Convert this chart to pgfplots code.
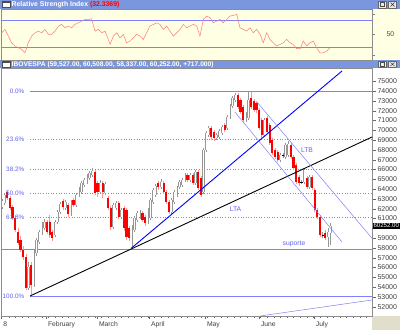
\documentclass[border=0pt]{standalone}
\usepackage{pgfplots}
\pgfplotsset{compat=1.18}
\usepackage{pgfplotstable}
\usepackage{fontspec}
\setmainfont{Liberation Sans}
\definecolor{hdr}{RGB}{122,150,222}
\definecolor{rsibg}{RGB}{255,255,228}
\definecolor{fib}{RGB}{128,128,250}
\definecolor{fibtxt}{RGB}{100,100,235}
\definecolor{rsiline}{RGB}{255,120,120}
\definecolor{cred}{RGB}{255,0,0}
\definecolor{wickred}{RGB}{255,150,150}
\definecolor{upgray}{RGB}{150,150,150}
\definecolor{corner}{RGB}{226,222,204}

\pgfplotstableread{
d O H L C
0 62175 62990 61970 62787
1 62583 63602 62379 63398
10 53918 56570 53720 56058
12 54224 57790 54020 57486
13 57486 59015 57180 58811
14 58607 59830 58400 59627
15 59525 60646 59321 60340
16 60034 60950 59830 60646
20 59321 60850 59117 60646
21 60646 61869 60442 61665
22 61665 62685 61461 62481
24 62073 62889 61869 62685
26 61461 62889 61258 62685
28 62379 63602 62175 63398
29 63398 64214 63194 63908
30 63704 64826 63500 64622
31 64418 65131 64214 64927
32 64724 65539 64520 65335
33 65131 65845 64927 65641
34 65437 66151 65233 65845
37 63704 64927 63500 64622
39 63602 64724 63398 64520
42 60136 62583 59930 62379
43 62073 62787 61869 62583
45 61156 62073 60950 61869
49 59015 60340 57996 60136
50 59830 61258 59627 61054
51 60850 61767 60646 61563
52 61156 61869 60950 61665
55 60646 62073 60442 61869
56 61054 63092 60850 62889
57 62685 64112 62481 63908
58 63398 64520 63194 64316
60 64214 65029 64010 64724
64 61665 63092 61461 62889
65 62685 63908 62481 63704
66 63398 64316 63194 64112
67 64214 64927 64010 64724
68 64418 65131 64214 64927
69 64927 65641 64724 65437
71 64927 65641 64724 65437
73 64622 65947 64418 65743
76 63704 68189 63500 67985
77 67985 69922 67782 69718
78 69515 70432 69311 70228
81 69209 69718 69005 69515
82 69311 70126 69107 69922
83 69718 70534 69515 70330
85 70228 71553 70024 71350
86 71350 72675 71146 72471
87 72471 73490 72267 73286
88 73083 73796 72879 73592
92 71044 71859 70840 71553
93 71248 74000 71044 73083
99 69515 71248 69311 71044
105 66966 67680 66762 67476
107 67272 68699 67068 68495
108 67476 68903 67272 68597
114 64724 66151 64520 65947
116 64214 65437 64010 65233
123 59117 60034 58097 59627
124 59527 60508 58337 60252
}\up

\pgfplotstableread{
d O H L C
2 63704 63908 62889 63092
3 63092 63296 61869 62073
4 62175 62379 60850 61054
5 61054 61258 59627 59830
6 59627 60034 58300 58505
7 58811 59220 57590 57792
8 57792 58200 56770 57078
9 57078 57380 53720 53918
11 56262 56570 53200 54224
17 60646 60850 59420 59627
18 60646 61360 59015 59321
19 59627 59830 58710 59015
23 62787 62990 61869 62175
25 62379 62583 61156 61461
27 62889 63092 62175 62379
35 65743 65947 63398 63602
36 64622 64826 63194 63704
38 64622 64826 63092 63704
40 63092 63296 61869 62073
41 62073 62277 59830 60136
44 62583 62787 60950 61156
46 62073 62277 59728 60034
47 61869 62073 58811 59117
48 60034 60238 58710 59015
53 61563 61767 60646 60850
54 61156 61360 60238 60544
59 64622 64826 63908 64214
61 64622 64826 63500 63704
62 63704 63908 62481 62685
63 62685 62889 61461 61665
70 65437 65641 64724 64927
72 65437 65641 64418 64622
74 65743 65947 63908 64112
75 65131 65335 63194 63398
79 70228 70432 69005 69311
80 69820 70024 68903 69209
84 70534 70738 69820 70024
89 73592 73796 72165 72369
90 73083 73286 71655 71859
91 72369 72573 70738 71044
94 73286 73898 72165 72369
95 72981 73185 71859 72063
96 72777 72981 71757 72063
97 72063 72267 70024 70228
98 71044 71248 69209 69515
100 71248 71451 69617 69820
101 70534 70738 68495 68699
102 69005 69209 67476 67680
103 67985 68189 67068 67272
104 67782 67985 66762 66966
109 68495 68699 67068 67272
110 67272 67476 65947 66151
111 66456 66660 64520 64724
112 65233 65437 64316 64622
115 65131 65335 64010 64214
117 65233 65437 63908 64112
118 63908 64112 61665 61869
119 61869 62073 60950 61156
120 61156 61360 59117 59321
122 59525 59830 58811 59015
}\down

\pgfplotstableread{
d O H L C
106 67374 67680 67170 67440
113 64724 64927 64520 64660
121 59321 59627 59015 59260
}\doji

\pgfplotstableread{
d r
-0.1 52.0
1.1 56.9
2.4 47.1
3.6 37.4
4.9 32.5
6.2 30.0
7.4 27.6
8.7 22.7
9.9 37.4
11.2 47.1
12.5 52.0
13.7 54.4
15.0 52.0
16.2 56.9
17.5 49.6
18.7 49.6
20.0 54.4
21.3 61.8
22.5 64.2
23.8 59.3
25.0 61.8
26.3 59.3
27.5 64.2
28.8 66.6
30.1 69.1
31.3 71.5
32.6 71.5
33.8 72.5
35.1 54.4
36.4 56.9
37.6 52.0
38.9 54.4
40.1 42.2
40.8 34.9
42.0 47.1
43.3 52.0
44.5 44.7
45.8 49.6
47.0 37.4
48.3 39.8
49.6 44.7
50.8 49.6
52.1 47.1
53.3 42.2
54.6 52.0
55.8 61.8
57.1 64.2
58.4 66.6
59.6 64.2
60.9 56.9
62.1 61.8
63.4 54.4
64.7 47.1
65.9 52.0
67.2 56.9
68.4 64.2
69.7 59.3
70.9 61.8
72.2 64.2
73.5 61.8
74.7 47.1
76.0 71.5
77.2 76.4
78.5 74.0
79.7 66.6
81.0 69.1
82.3 71.5
83.5 66.6
84.8 71.5
86.0 76.4
87.3 77.4
88.6 78.9
89.8 59.3
91.1 56.9
92.3 54.4
93.6 59.3
94.8 52.0
96.1 56.9
97.4 49.6
98.6 37.4
99.9 52.0
101.1 42.2
102.4 37.4
103.6 32.5
104.9 34.9
106.2 37.4
107.4 42.2
108.7 37.4
109.9 34.9
111.2 28.6
112.5 28.6
113.7 39.8
115.0 32.5
116.2 37.4
117.5 39.8
118.7 30.0
120.0 22.7
121.3 22.7
122.5 25.1
123.8 30.0
}\rsi

\begin{document}
\begin{tikzpicture}
\useasboundingbox (0,0) rectangle (400bp,330bp);
\fill[white] (0,0) rectangle (400bp,330bp);
\fill[rsibg] (0,269bp) rectangle (400bp,321bp);
\fill[corner] (372bp,0) rectangle (400bp,14bp);
% header bars
\fill[hdr] (0,321bp) rectangle (400bp,330bp);
\fill[hdr] (0,262bp) rectangle (400bp,269.5bp);

% RSI panel
\begin{axis}[
  at={(1bp,269.5bp)}, anchor=south west,
  width=371bp, height=51.5bp, scale only axis,
  xmin=-0.377, xmax=139.62, ymin=11.4, ymax=86.8,
  xtick=\empty, ytick={20,50,80}, yticklabels={,50,},
  ytick pos=right, yticklabel pos=right, tick align=outside,
  major tick length=3bp,
  yticklabel style={font=\fontsize{7}{8}\selectfont, text=black!70, anchor=west, xshift=8bp},
  axis line style={draw=black!45},
  axis background/.style={fill=rsibg},
]
\addplot[fib, line width=0.6pt] coordinates {(-1,70) (140,70)};
\addplot[fib, line width=0.6pt] coordinates {(-1,30) (140,30)};
\addplot[rsiline, line width=0.5pt] table[x=d, y=r] {\rsi};
\end{axis}

% main panel
\begin{axis}[
  at={(1bp,14bp)}, anchor=south west,
  width=371bp, height=248bp, scale only axis,
  xmin=-0.377, xmax=139.62, ymin=51063, ymax=76345,
  axis line style={draw=black!45},
  ytick={52000,53000,54000,55000,56000,57000,58000,59000,61000,62000,63000,64000,65000,66000,67000,68000,69000,70000,71000,72000,73000,74000,75000},
  extra y ticks={60000}, extra y tick labels={},
  scaled y ticks=false,
  ytick pos=right, yticklabel pos=right,
  tick align=outside, major tick length=3.5bp, minor tick length=2bp,
  tick style={black!60},
  yticklabel style={font=\fontsize{7}{8}\selectfont, text=black!75, anchor=west, xshift=-1.5bp},
  /pgf/number format/1000 sep={},
  /pgf/number format/assume math mode=true,
  xtick={-0.2,16.6,35.85,55.5,76.6,97.0,117.7},
  xticklabels={8,February,March,April,May,June,July},
  minor xtick={2.5,5,7.5,10,12.5,15,17.5,20,22.5,25,27.5,30,32.5,35,37.5,40,42.5,45,47.5,50,52.5,55,57.5,60,62.5,65,67.5,70,72.5,75,77.5,80,82.5,85,87.5,90,92.5,95,97.5,100,102.5,105,107.5,110,112.5,115,117.5,120,122.5,125,127.5,130,132.5,135,137.5},
  xtick pos=left,
  xticklabel style={font=\fontsize{6.8}{8}\selectfont, text=black!75, anchor=north west, xshift=-1.5bp, yshift=1bp},
]
% fibonacci levels
\addplot[fib, line width=0.6pt] coordinates {(10.57,73990) (140,73990)};
\addplot[fib, line width=0.6pt] coordinates {(10.57,53100) (140,53100)};
\addplot[fib, line width=0.6pt, dash pattern=on 1bp off 1.6bp] coordinates {(10.57,69060) (140,69060)};
\addplot[fib, line width=0.6pt, dash pattern=on 1bp off 1.6bp] coordinates {(10.57,66010) (140,66010)};
\addplot[fib, line width=0.6pt, dash pattern=on 1bp off 1.6bp] coordinates {(10.57,63545) (140,63545)};
\addplot[fib, line width=0.6pt, dash pattern=on 1bp off 1.6bp] coordinates {(10.57,61080) (140,61080)};
% suporte
\addplot[fib, line width=0.6pt] coordinates {(-1,57870) (140,57870)};
% wicks
\addplot[upgray, line width=0.5pt, quiver={u=0, v=\thisrow{H}-\thisrow{L}}] table[x=d, y=L] {\up};
\addplot[wickred, line width=0.5pt, quiver={u=0, v=\thisrow{H}-\thisrow{L}}] table[x=d, y=L] {\down};
\addplot[upgray, line width=0.5pt, quiver={u=0, v=\thisrow{H}-\thisrow{L}}] table[x=d, y=L] {\doji};
% bodies
\addplot[upgray, line width=2.2bp, quiver={u=0, v=\thisrow{C}-\thisrow{O}}] table[x=d, y=O] {\up};
\addplot[white, line width=0.9bp, quiver={u=0, v=\thisrow{C}-\thisrow{O}}] table[x=d, y=O] {\up};
\addplot[cred, line width=2.2bp, quiver={u=0, v=\thisrow{C}-\thisrow{O}}] table[x=d, y=O] {\down};
\addplot[black, line width=2.2bp, quiver={u=0, v=\thisrow{C}-\thisrow{O}}] table[x=d, y=O] {\doji};
% trend lines
\addplot[black, line width=0.9pt] coordinates {(10.57,53100) (139.62,69310)};
\addplot[blue, line width=0.9pt] coordinates {(48.7,57950) (128.3,76040)};
\addplot[fib, line width=0.5pt] coordinates {(96.2,72879) (139.62,58990)};
\addplot[fib, line width=0.5pt] coordinates {(87.9,71859) (128.3,58607)};
\addplot[fib, line width=0.5pt] coordinates {(97.4,51063) (139.62,52695)};
% labels
\node[anchor=east, inner sep=0pt, font=\fontsize{6.4}{7}\selectfont, text=fibtxt] at (axis cs:8.5,73990) {0.0\%};
\node[anchor=east, inner sep=0pt, font=\fontsize{6.4}{7}\selectfont, text=fibtxt] at (axis cs:8.5,69060) {23.6\%};
\node[anchor=east, inner sep=0pt, font=\fontsize{6.4}{7}\selectfont, text=fibtxt] at (axis cs:8.5,66010) {38.2\%};
\node[anchor=east, inner sep=0pt, font=\fontsize{6.4}{7}\selectfont, text=fibtxt] at (axis cs:8.5,63545) {50.0\%};
\node[anchor=east, inner sep=0pt, font=\fontsize{6.4}{7}\selectfont, text=fibtxt] at (axis cs:8.5,61080) {61.8\%};
\node[anchor=east, inner sep=0pt, font=\fontsize{6.4}{7}\selectfont, text=fibtxt] at (axis cs:8.5,53100) {100.0\%};
\node[inner sep=0pt, font=\fontsize{6.8}{8}\selectfont, text=fibtxt] at (axis cs:88.1,61971) {LTA};
\node[inner sep=0pt, font=\fontsize{6.8}{8}\selectfont, text=fibtxt] at (axis cs:115.1,67985) {LTB};
\node[inner sep=0pt, font=\fontsize{6.8}{8}\selectfont, text=fibtxt] at (axis cs:110.2,58403) {suporte};
\coordinate (lp) at (axis cs:139.62,60252);
\end{axis}

\node[anchor=west, fill=black, text=white, inner xsep=0.6bp, inner ysep=0.6bp, font=\fontsize{6.1}{7}\selectfont] at ([xshift=0.8bp]lp) {60252.00};

% header contents
\draw[black!70, fill=white, line width=0.4pt] (2.5bp,322.5bp) rectangle (10.5bp,328.3bp);
\fill[black!70] (2.5bp,327bp) rectangle (10.5bp,328.3bp);
\node[anchor=west, inner sep=0pt, font=\bfseries\fontsize{6.9}{8}\selectfont, text=white] at (11.5bp,325.5bp) {Relative Strength Index \textcolor{red}{(32.3369)}};
\draw[black!60, fill=white!92!black, line width=0.3pt] (378.5bp,322bp) rectangle (386.5bp,329bp);
\draw[black!70, line width=0.4pt] (380.5bp,323.5bp) rectangle (384.5bp,327.5bp);
\draw[black!60, fill=white!92!black, line width=0.3pt] (388.5bp,322bp) rectangle (396.5bp,329bp);
\draw[black!80, line width=0.5pt] (390.5bp,323.5bp) -- (394.5bp,327.5bp) (390.5bp,327.5bp) -- (394.5bp,323.5bp);

\draw[black!70, fill=white, line width=0.4pt] (2.5bp,263bp) rectangle (10.5bp,268.6bp);
\fill[black!70] (2.5bp,267.4bp) rectangle (10.5bp,268.6bp);
\node[anchor=west, inner sep=0pt, font=\bfseries\fontsize{6.7}{8}\selectfont, text=white] at (11.5bp,265.7bp) {IBOVESPA (59,527.00, 60,508.00, 58,337.00, 60,252.00, +717.000)};
\draw[black!60, fill=white!92!black, line width=0.3pt] (378.5bp,262.5bp) rectangle (386.5bp,269bp);
\draw[black!70, line width=0.4pt] (380.5bp,264bp) rectangle (384.5bp,267.5bp);
\draw[black!60, fill=white!92!black, line width=0.3pt] (388.5bp,262.5bp) rectangle (396.5bp,269bp);
\draw[black!80, line width=0.5pt] (390.5bp,264bp) -- (394.5bp,267.5bp) (390.5bp,267.5bp) -- (394.5bp,264bp);
\end{tikzpicture}
\end{document}
